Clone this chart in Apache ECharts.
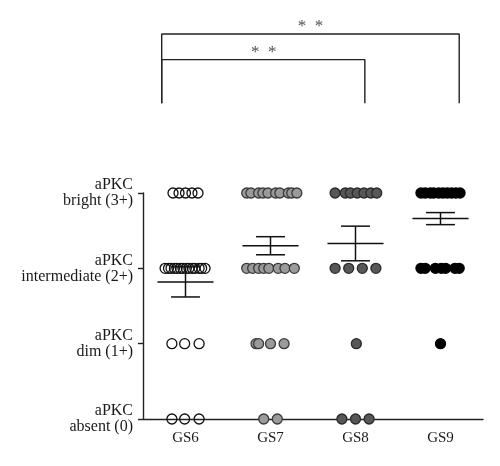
<!DOCTYPE html>
<html>
<head>
<meta charset="utf-8">
<script src="https://cdn.jsdelivr.net/npm/echarts@6/dist/echarts.min.js"></script>
<style>
  html, body { margin: 0; padding: 0; background: #fff; }
  #chart { width: 500px; height: 466px; }
</style>
</head>
<body>
<div id="chart"></div>
<script>
const groups = ["GS6", "GS7", "GS8", "GS9"]
const levelLabels = ["aPKC\nabsent (0)", "aPKC\ndim (1+)", "aPKC\nintermediate (2+)", "aPKC\nbright (3+)"]

// horizontal jitter of each dot, per score level 0..3 (in category widths)
const gs6Offsets = [
  [-0.16, -0.01, 0.16],
  [-0.16, -0.01, 0.16],
  [-0.24, -0.20, -0.17, -0.13, -0.10, -0.06, -0.03, 0.01, 0.04, 0.08, 0.11, 0.16, 0.19, 0.23],
  [-0.147, -0.076, 0, 0.076, 0.147]
]
const gs7Offsets = [
  [-0.08, 0.08],
  [-0.17, -0.14, 0, 0.16],
  [-0.28, -0.21, -0.14, -0.08, -0.02, 0.09, 0.17, 0.28],
  [-0.28, -0.23, -0.14, -0.09, -0.03, 0.06, 0.11, 0.21, 0.25, 0.31]
]
const gs8Offsets = [
  [-0.16, 0, 0.16],
  [0.01],
  [-0.24, -0.08, 0.08, 0.24],
  [-0.24, -0.12, -0.06, 0.02, 0.10, 0.18, 0.25]
]
const gs9Offsets = [
  [],
  [0],
  [-0.23, -0.18, -0.06, 0.01, 0.06, 0.17, 0.22],
  [-0.23, -0.18, -0.12, -0.08, -0.02, 0.03, 0.08, 0.13, 0.18, 0.23]
]

const means = [1.82, 2.30, 2.33, 2.66]
const sems = [0.20, 0.12, 0.23, 0.08]

// significance brackets and stars (x in category units, y in score units)
const bracketOuter = [[0.72, 4.19], [0.72, 5.11], [4.22, 5.11], [4.22, 4.19]]
const bracketInner = [[0.72, 4.19], [0.72, 4.77], [3.11, 4.77], [3.11, 4.19]]
const stars = [[2.47, 5.21, "*  *"], [1.92, 4.86, "*  *"]]

const font = "Liberation Serif"
const ink = "#1a1a1a"

function toPoints(groupIndex, offsets) {
  const pts = []
  offsets.forEach((row, level) => {
    row.forEach(off => pts.push([groupIndex + 1 + off, level]))
  })
  return pts
}

function dotSeries(groupIndex, offsets, fill, border) {
  return {
    type: "scatter",
    xAxisIndex: 1,
    symbol: "circle",
    symbolSize: 10,
    itemStyle: { color: fill, borderColor: border, borderWidth: 1.3, opacity: 1 },
    silent: true,
    z: 3,
    data: toPoints(groupIndex, offsets)
  }
}

function bracketSeries(data) {
  return {
    type: "line",
    xAxisIndex: 1,
    clip: false,
    symbol: "none",
    silent: true,
    lineStyle: { color: "#222", width: 1.4 },
    data
  }
}

const chart = echarts.init(document.getElementById("chart"))

chart.setOption({
  animation: false,
  grid: { left: 143, right: 17, top: 193, bottom: 47 },
  xAxis: [
    {
      type: "category",
      data: groups,
      boundaryGap: true,
      axisLine: { lineStyle: { color: "#222", width: 1.4 } },
      axisTick: { show: false },
      axisLabel: { color: ink, fontFamily: font, fontSize: 15, margin: 12 }
    },
    { type: "value", min: 0.5, max: 4.5, show: false }
  ],
  yAxis: {
    type: "value",
    min: 0,
    max: 3,
    interval: 1,
    axisLine: { show: true, lineStyle: { color: "#222", width: 1.4 } },
    axisTick: { show: true, length: 5, lineStyle: { color: "#222", width: 1.4 } },
    splitLine: { show: false },
    axisLabel: {
      color: ink,
      fontFamily: font,
      fontSize: 16,
      lineHeight: 16,
      margin: 10,
      formatter: v => levelLabels[v]
    }
  },
  series: [
    dotSeries(0, gs6Offsets, "transparent", "#111"),
    dotSeries(1, gs7Offsets, "#9a9a9a", "#3a3a3a"),
    dotSeries(2, gs8Offsets, "#575757", "#2a2a2a"),
    dotSeries(3, gs9Offsets, "#000", "#000"),
    {
      type: "custom",
      xAxisIndex: 1,
      silent: true,
      z: 5,
      data: means.map((m, i) => [i + 1, m, sems[i]]),
      renderItem(params, api) {
        const x = api.value(0)
        const m = api.value(1)
        const s = api.value(2)
        const mid = api.coord([x, m])
        const top = api.coord([x, m + s])
        const bot = api.coord([x, m - s])
        const halfMean = api.size([0.33, 0])[0]
        const halfCap = api.size([0.17, 0])[0]
        const style = { stroke: "#111", lineWidth: 1.5 }
        return {
          type: "group",
          children: [
            { type: "line", shape: { x1: mid[0] - halfMean, y1: mid[1], x2: mid[0] + halfMean, y2: mid[1] }, style },
            { type: "line", shape: { x1: top[0], y1: top[1], x2: bot[0], y2: bot[1] }, style },
            { type: "line", shape: { x1: top[0] - halfCap, y1: top[1], x2: top[0] + halfCap, y2: top[1] }, style },
            { type: "line", shape: { x1: bot[0] - halfCap, y1: bot[1], x2: bot[0] + halfCap, y2: bot[1] }, style }
          ]
        }
      }
    },
    bracketSeries(bracketOuter),
    bracketSeries(bracketInner),
    {
      type: "scatter",
      xAxisIndex: 1,
      clip: false,
      silent: true,
      symbolSize: 0,
      label: {
        show: true,
        position: "inside",
        formatter: p => p.data[2],
        color: "#222",
        fontFamily: font,
        fontSize: 17
      },
      data: stars
    }
  ]
})
</script>
</body>
</html>
